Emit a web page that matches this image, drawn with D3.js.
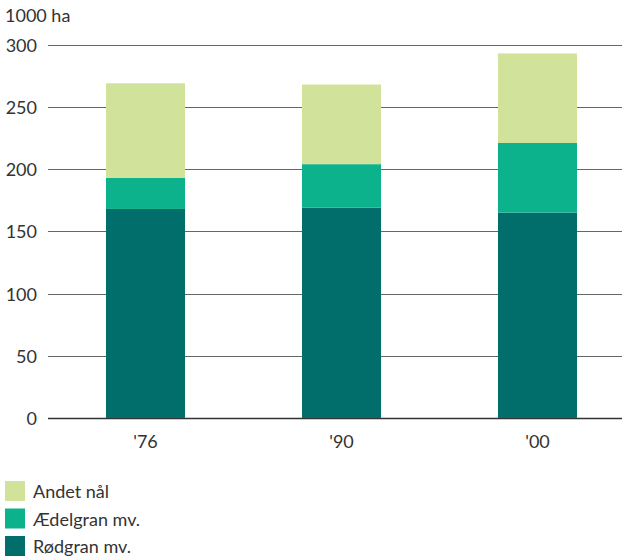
<!DOCTYPE html>
<html>
<head>
<meta charset="utf-8">
<script src="https://cdn.jsdelivr.net/npm/d3@7"></script>
<style>
  body { margin: 0; background: #fff; }
  svg text { font-family: Lato, "Open Sans", sans-serif; fill: #333; }
</style>
</head>
<body>
<svg id="chart" width="622" height="559"></svg>
<script>
// Forest area by tree type, 1000 ha
const years = ["'76", "'90", "'00"];
const roedgran = [168, 169, 165];
const aedelgran = [25, 35, 56];
const andetNaal = [76, 64, 72];
const yTicks = [0, 50, 100, 150, 200, 250, 300];
const seriesNames = ["Rødgran mv.", "Ædelgran mv.", "Andet nål"];
const seriesColors = ["#016e6b", "#0cb28c", "#d1e39b"];

const svg = d3.select("#chart");
const plotLeft = 48, plotRight = 622;

const y = d3.scaleLinear().domain([0, 300]).range([418, 44.7]);
const x = d3.scaleBand().domain(years).range([8, 675])
  .paddingInner(0.597).paddingOuter(0.5);

// gridlines
svg.append("g").selectAll("line").data(yTicks).join("line")
  .attr("x1", plotLeft).attr("x2", plotRight)
  .attr("y1", d => Math.round(y(d)) + 0.5).attr("y2", d => Math.round(y(d)) + 0.5)
  .attr("stroke", d => d === 0 ? "#333" : "#666")
  .attr("stroke-width", d => d === 0 ? 1.5 : 1.2);

// y tick labels
svg.append("g").selectAll("text").data(yTicks).join("text")
  .attr("x", 37).attr("y", d => y(d))
  .attr("text-anchor", "end").attr("dominant-baseline", "central")
  .attr("font-size", 18).text(d => d);

svg.append("text").attr("x", 5).attr("y", 22)
  .attr("font-size", 18).text("1000 ha");

// stacked bars
const rows = years.map((yr, i) => ({ year: yr, r: roedgran[i], a: aedelgran[i], n: andetNaal[i] }));
const stack = d3.stack().keys(["r", "a", "n"])(rows);

svg.append("g").selectAll("g").data(stack).join("g")
  .attr("fill", (d, i) => seriesColors[i])
  .selectAll("rect").data(d => d).join("rect")
  .attr("x", d => x(d.data.year))
  .attr("width", x.bandwidth())
  .attr("y", d => y(d[1]))
  .attr("height", d => y(d[0]) - y(d[1]));

// x axis labels
svg.append("g").selectAll("text").data(years).join("text")
  .attr("x", d => x(d) + x.bandwidth() / 2).attr("y", 448)
  .attr("text-anchor", "middle").attr("font-size", 18).text(d => d);

// legend (top entry is the top of the stack)
const legendOrder = [2, 1, 0];
const lg = svg.append("g").selectAll("g").data(legendOrder).join("g")
  .attr("transform", (d, i) => `translate(5, ${481 + i * 27.5})`);
lg.append("rect").attr("width", 20).attr("height", 20)
  .attr("fill", d => seriesColors[d]);
lg.append("text").attr("x", 28).attr("y", 10)
  .attr("dominant-baseline", "central").attr("font-size", 18)
  .text(d => seriesNames[d]);
</script>
</body>
</html>
